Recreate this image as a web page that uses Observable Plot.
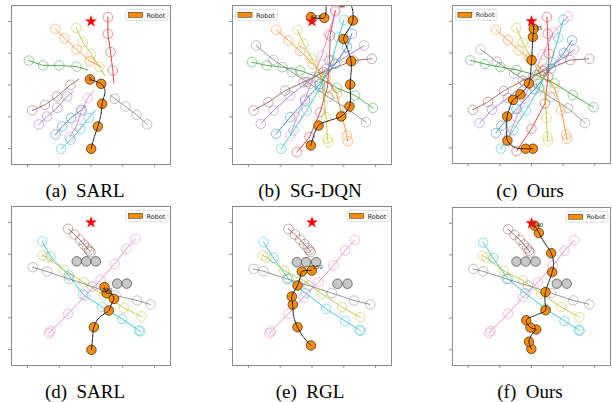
<!DOCTYPE html>
<html>
<head>
<meta charset="utf-8">
<script src="https://cdn.jsdelivr.net/npm/d3@7"></script>
<script src="https://cdn.jsdelivr.net/npm/@observablehq/plot@0.6"></script>
<style>
  html, body { margin: 0; padding: 0; background: #fff; }
  #page { position: relative; width: 612px; height: 402px; overflow: hidden; background: #fff; }
  .panel { position: absolute; }
  .cap { position: absolute; width: 200px; text-align: center; font-family: "Liberation Serif", "Times New Roman", serif; font-size: 19px; line-height: 19px; white-space: pre; color: #000; }
</style>
</head>
<body>
<div id="page"></div>
<script>
// ---------------- data (world coordinates, metres) ----------------
const goal = [0, 4];
const tickValues = [-4, -2, 0, 2, 4];
const captions = ["(a)  SARL", "(b)  SG-DQN", "(c)  Ours", "(d)  SARL", "(e)  RGL", "(f)  Ours"];

// human id -> tab10 colour index: 0 blue,1 orange,2 green,3 red,4 purple,5 brown,6 pink,7 gray,8 olive,9 cyan
const a_humans = [0,1,2,3,4,5,6,7,8,9];
const a_circles = [
  [[-2.23,-3.11],[-1.81,-2.61],[-1.25,-2.07],[-0.60,-1.56]],
  [[-2.23,3.53],[-1.67,2.94],[-0.91,2.23],[-0.07,1.50]],
  [[-3.91,1.54],[-3.01,1.23],[-2.00,1.23],[-0.91,1.16]],
  [[1.06,4.27],[1.06,3.22],[1.23,2.07],[1.37,0.91]],
  [[-3.28,-2.48],[-2.76,-1.98],[-2.13,-1.44],[-1.50,-0.72]],
  [[-3.70,-1.60],[-2.90,-1.25],[-2.13,-0.72],[-1.29,0.01]],
  [[-1.33,-3.28],[-0.91,-2.55],[-0.62,-1.67],[-0.20,-0.83]],
  [[3.53,-2.48],[2.86,-1.88],[2.17,-1.35],[1.50,-0.87]],
  [[-0.93,3.60],[-0.51,2.69],[0.01,1.96],[0.53,1.12]],
  [[-1.88,-4.02],[-1.29,-3.45],[-0.66,-2.76],[-0.14,-2.07]]
];
const a_line_ends = [[-0.30,-1.29],[0.70,1.12],[-0.20,0.95],[1.44,0.12],[-1.12,-0.41],[-0.72,0.39],[0.18,-0.35],[1.23,-0.66],[0.91,0.53],[0.28,-1.60]];
const a_robot = [[0.01,-4.01],[0.43,-2.61],[0.70,-1.18],[0.64,0.07],[-0.07,0.35]];
const a_robot_path = [[0.01,-4.01],[0.20,-3.30],[0.43,-2.61],[0.62,-1.90],[0.70,-1.18],[0.88,-0.30],[0.64,0.07],[-0.07,0.35]];
const a_label = [[-0.07,0.35,"5"]];

const b_humans = [0,1,2,3,4,5,6,7,8,9];
const b_circles = [
  [[-2.25,-3.07],[-1.37,-2.02],[-0.43,-0.98],[0.51,0.07],[1.46,1.33],[2.19,2.38],[2.51,3.22]],
  [[-2.25,3.47],[-1.48,2.80],[-0.74,2.13],[0.05,1.33],[0.89,0.49],[1.56,-0.56],[1.88,-1.92],[2.19,-3.18],[2.25,-3.53]],
  [[-3.78,1.44],[-2.84,1.23],[-1.86,1.12],[-0.74,0.91],[0.41,0.49],[1.56,-0.18],[2.71,-0.66],[3.83,-1.44]],
  [[1.46,4.69],[1.14,3.11],[1.10,1.54],[0.97,-0.14],[0.51,-1.71],[-0.16,-3.28],[-0.95,-4.22]],
  [[-3.22,-2.44],[-2.42,-1.60],[-1.37,-0.66],[-0.28,0.18],[0.93,1.02],[2.09,1.75],[3.28,2.48]],
  [[-3.68,-1.60],[-2.74,-1.08],[-1.69,-0.35],[-0.53,0.18],[0.72,0.81],[2.61,1.54],[3.76,1.65]],
  [[-1.37,-3.18],[-0.95,-2.02],[-0.43,-0.87],[0.09,0.49],[0.62,1.86],[1.04,3.22],[1.46,4.58]],
  [[-3.51,2.48],[-2.42,1.58],[-1.27,0.81],[-0.12,0.07],[1.04,-0.77],[2.23,-1.50],[3.39,-2.34]],
  [[-0.91,3.47],[-0.53,2.59],[-0.01,1.65],[0.51,0.70],[0.72,-0.56],[0.89,-2.02],[0.97,-3.39],[1.02,-3.60]],
  [[-1.94,-4.01],[-1.16,-2.86],[-0.32,-1.60],[0.51,-0.14],[1.25,1.54],[1.67,3.01],[2.02,4.10]]
];
const b_line_ends = [null,null,null,null,null,null,null,null,null,null];
const b_robot = [[-0.07,-3.80],[0.41,-2.55],[1.83,-1.98],[2.36,-1.35],[2.40,0.03],[2.46,1.50],[1.98,2.90],[2.57,4.06],[1.88,5.20],[0.77,4.22],[-0.07,4.27]];
const b_robot_path = [[-0.07,-3.80],[0.41,-2.55],[1.20,-2.20],[1.83,-1.98],[2.36,-1.35],[2.40,0.03],[2.46,1.50],[2.10,2.60],[1.98,2.90],[2.57,4.06],[2.40,5.10],[1.88,5.30],[0.95,5.20],[0.88,4.60],[0.77,4.22],[-0.07,4.27]];
const b_label = [[0.25,4.27,"135"]];

const c_humans = [0,1,2,3,4,5,6,7,8,9];
const c_circles = [
  [[-2.25,-3.07],[-1.90,-2.60],[-0.95,-1.55],[0.20,-0.30],[1.25,1.00],[2.05,2.00],[2.57,2.80]],
  [[-2.25,3.47],[-1.48,2.80],[-0.81,2.16],[-0.13,1.65],[0.72,0.91],[1.46,-0.24],[1.88,-1.60],[2.19,-3.18],[2.25,-3.43]],
  [[-3.87,1.53],[-2.95,1.30],[-1.96,1.10],[-0.95,0.93],[0.30,0.60],[1.46,0.07],[2.61,-0.66],[3.93,-1.44]],
  [[0.98,4.27],[1.02,3.22],[1.10,1.95],[1.05,0.50],[0.85,-1.20],[0.00,-2.80],[-0.95,-4.22]],
  [[-3.28,-2.44],[-2.50,-1.60],[-1.50,-0.85],[-0.40,0.10],[0.85,1.00],[1.90,1.60],[2.70,2.22]],
  [[-3.72,-1.60],[-2.75,-1.10],[-1.75,-0.40],[-0.55,0.25],[0.75,0.85],[2.45,1.55],[3.66,1.63]],
  [[-1.40,-3.20],[-0.95,-2.05],[-0.45,-0.90],[0.10,0.50],[0.70,1.90],[1.40,3.30],[2.30,4.31]],
  [[-3.22,2.23],[-2.20,1.45],[-1.10,0.70],[0.05,-0.05],[1.20,-0.80],[2.30,-1.50],[3.39,-2.44]],
  [[-0.95,3.59],[-0.55,2.65],[-0.05,1.70],[0.55,0.60],[0.85,-0.70],[0.95,-2.10],[1.00,-3.30],[1.05,-3.56]],
  [[-1.94,-4.06],[-1.15,-2.90],[-0.35,-1.65],[0.50,-0.20],[1.25,1.45],[1.70,2.95],[2.02,4.10]]
];
const c_line_ends = [null,null,null,null,null,null,null,null,null,null];
const c_robot = [[0.09,-4.06],[-0.37,-4.06],[-1.52,-3.55],[-1.54,-2.02],[-1.16,-0.97],[-0.70,-0.62],[-0.16,0.07],[0.01,1.54],[0.09,3.01],[0.14,3.53]];
const c_robot_path = [[0.09,-4.06],[-0.37,-4.06],[-1.00,-4.00],[-1.52,-3.55],[-1.56,-2.80],[-1.54,-2.02],[-1.35,-1.40],[-1.16,-0.97],[-0.70,-0.62],[-0.40,-0.30],[-0.16,0.07],[-0.05,0.80],[0.01,1.54],[0.05,2.30],[0.09,3.01],[0.14,3.53],[0.05,3.95]];
const c_label = [[0.36,3.55,"135"]];

const d_humans = [5,9,8,7,6];
const d_circles = [
  [[-1.44,3.60],[-1.04,3.24],[-0.70,2.90],[-0.45,2.61],[-0.24,2.38],[-0.12,2.23],[-0.03,2.13]],
  [[-3.07,2.82],[-2.55,1.86],[-1.39,0.66],[-0.49,-0.54],[0.70,-1.33],[1.96,-2.07],[3.01,-2.80],[3.10,-2.85]],
  [[-3.03,1.92],[-2.75,1.80],[-1.71,1.02],[-0.45,0.24],[0.81,-0.60],[2.06,-1.37],[3.18,-1.92]],
  [[-3.66,1.18],[-2.76,0.91],[-1.39,0.45],[0.07,-0.03],[1.54,-0.60],[2.90,-0.91],[3.74,-1.16]],
  [[-2.65,-2.97],[-2.55,-2.85],[-1.44,-1.75],[-0.35,-0.60],[0.60,0.39],[1.48,1.39],[2.23,2.34],[2.80,2.97]]
];
const d_line_ends = [null,null,null,null,null];
const d_statics = [[-0.90,1.55],[-0.30,1.55],[0.30,1.55],[1.65,0.15],[2.25,0.15]];
const d_robot = [[0.03,-4.01],[0.18,-2.59],[1.12,-1.54],[1.44,-0.81],[0.98,-0.45],[0.85,-0.07]];
const d_robot_path = [[0.03,-4.01],[0.10,-3.30],[0.18,-2.59],[0.50,-2.00],[1.12,-1.54],[1.30,-1.10],[1.44,-0.81],[1.25,-0.45],[0.98,-0.45],[0.85,-0.07]];
const d_label = [[1.00,-0.25,"140"]];

const e_humans = [5,9,8,7,6];
const e_circles = [
  [[-1.48,3.59],[-1.08,3.24],[-0.74,2.92],[-0.49,2.63],[-0.28,2.40],[-0.16,2.24],[-0.08,2.13]],
  [[-3.05,2.76],[-2.42,1.77],[-1.48,0.45],[-0.40,-0.45],[0.89,-1.44],[2.09,-2.21],[2.99,-2.76],[3.05,-2.82]],
  [[-3.09,1.92],[-2.85,1.80],[-1.75,0.97],[-0.53,0.35],[0.62,-0.49],[1.88,-1.33],[3.03,-1.96]],
  [[-3.68,1.08],[-3.05,0.93],[-1.58,0.45],[-0.22,0.03],[1.25,-0.45],[2.65,-0.91],[3.66,-1.16]],
  [[-2.67,-2.97],[-2.58,-2.85],[-1.48,-1.75],[-0.53,-0.70],[0.41,0.24],[1.35,1.29],[2.09,2.23],[2.71,2.90]]
];
const e_line_ends = [null,null,null,null,null];
const e_statics = [[-0.95,1.50],[-0.37,1.50],[0.26,1.50],[1.60,0.14],[2.23,0.14]];
const e_robot = [[-0.07,-3.74],[-0.91,-2.59],[-1.21,-1.17],[-1.27,-0.66],[-0.91,0.03],[-0.64,0.91],[-0.01,0.97]];
const e_robot_path = [[-0.07,-3.74],[-0.55,-3.20],[-0.91,-2.59],[-1.15,-1.90],[-1.21,-1.17],[-1.27,-0.66],[-0.91,0.03],[-0.75,0.50],[-0.64,0.91],[-0.01,0.97]];
const e_label = [[0.35,1.15,"150"]];

const f_humans = [5,9,8,7,6];
const f_circles = [
  [[-1.48,3.62],[-1.08,3.27],[-0.74,2.95],[-0.49,2.66],[-0.28,2.43],[-0.16,2.27],[-0.08,2.15]],
  [[-3.05,2.78],[-2.42,1.80],[-1.48,0.48],[-0.40,-0.42],[0.89,-1.41],[2.09,-2.18],[2.99,-2.74],[3.05,-2.80]],
  [[-3.09,1.95],[-2.85,1.83],[-1.75,1.00],[-0.53,0.38],[0.62,-0.46],[1.88,-1.30],[3.03,-1.93]],
  [[-3.68,1.11],[-3.05,0.96],[-1.58,0.48],[-0.22,0.06],[1.25,-0.42],[2.65,-0.88],[3.66,-1.13]],
  [[-2.67,-2.94],[-2.58,-2.82],[-1.48,-1.72],[-0.53,-0.67],[0.41,0.27],[1.35,1.32],[2.09,2.26],[2.71,2.93]]
];
const f_line_ends = [null,null,null,null,null];
const f_statics = [[-0.95,1.58],[-0.37,1.58],[0.26,1.58],[1.60,0.18],[2.23,0.18]];
const f_robot = [[-0.01,-3.95],[-0.16,-3.49],[0.30,-2.72],[-0.07,-2.59],[-0.33,-2.13],[0.89,-1.50],[0.89,-0.35],[1.31,0.91],[1.25,2.11],[0.47,3.39],[0.20,3.85]];
const f_robot_path = [[-0.01,-3.95],[-0.16,-3.49],[0.05,-3.00],[0.30,-2.72],[-0.07,-2.59],[-0.33,-2.13],[0.30,-1.80],[0.89,-1.50],[0.85,-0.90],[0.89,-0.35],[1.31,0.91],[1.40,1.40],[1.25,2.11],[0.80,2.80],[0.47,3.39],[0.20,3.85],[0.05,4.00]];
const f_label = [[0.42,3.85,"140"]];

// ---------------- layout ----------------
const SIDE = 159;           // frame size in px
const ML = 12, MR = 2, MT = 2, MB = 6;
const panels = [
  {humans:a_humans, circles:a_circles, ends:a_line_ends, robot:a_robot, path:a_robot_path, label:a_label, statics:[], left:11,  top:5,   legendLeft:false},
  {humans:b_humans, circles:b_circles, ends:b_line_ends, robot:b_robot, path:b_robot_path, label:b_label, statics:[], left:232, top:5,   legendLeft:true},
  {humans:c_humans, circles:c_circles, ends:c_line_ends, robot:c_robot, path:c_robot_path, label:c_label, statics:[], left:452, top:5,   legendLeft:true},
  {humans:d_humans, circles:d_circles, ends:d_line_ends, robot:d_robot, path:d_robot_path, label:d_label, statics:d_statics, left:11,  top:206, legendLeft:false},
  {humans:e_humans, circles:e_circles, ends:e_line_ends, robot:e_robot, path:e_robot_path, label:e_label, statics:e_statics, left:232, top:206, legendLeft:false},
  {humans:f_humans, circles:f_circles, ends:f_line_ends, robot:f_robot, path:f_robot_path, label:f_label, statics:f_statics, left:452, top:207, legendLeft:false}
];
const capPos = [[85,181],[310,181],[530,181],[85,382],[310,382],[530,382]];

const page = document.getElementById("page");
const R = 0.3 * SIDE / 10;   // 0.3 m body radius in px
const ROBOT = "#ff8c00";

panels.forEach((p, k) => {
  const circleRows = [];
  const lineRows = [];
  p.humans.forEach((h, i) => {
    p.circles[i].forEach(([x, y]) => { circleRows.push({x, y, h}); lineRows.push({x, y, h}); });
    if (p.ends[i]) lineRows.push({x: p.ends[i][0], y: p.ends[i][1], h});
  });
  const svg = Plot.plot({
    width: ML + SIDE + MR, height: MT + SIDE + MB,
    marginLeft: ML, marginRight: MR, marginTop: MT, marginBottom: MB,
    x: {domain: [-5, 5], axis: null},
    y: {domain: [-5, 5], axis: null},
    color: {type: "ordinal", domain: d3.range(10), range: d3.schemeCategory10},
    style: {background: "transparent", overflow: "visible"},
    marks: [
      Plot.line(lineRows, {x: "x", y: "y", z: "h", stroke: "h", strokeWidth: 0.9, strokeDasharray: "1.6,0.9", clip: true}),
      Plot.dot(circleRows, {x: "x", y: "y", stroke: "h", r: R, strokeWidth: 0.9, strokeOpacity: 0.55, fill: "none", clip: true}),
      Plot.dot(p.statics, {x: d => d[0], y: d => d[1], r: R, fill: "#c8c8c8", stroke: "#444", strokeWidth: 0.7}),
      Plot.dot(p.robot, {x: d => d[0], y: d => d[1], r: R, fill: ROBOT, stroke: "#222", strokeWidth: 0.7, clip: true}),
      Plot.line(p.path, {x: d => d[0], y: d => d[1], stroke: "#111", strokeWidth: 1, strokeDasharray: "1.6,1", curve: "catmull-rom", clip: true}),
      Plot.dot([goal], {x: d => d[0], y: d => d[1], symbol: "star", fill: "red", r: 3.8}),
      Plot.text(p.label, {x: d => d[0], y: d => d[1], text: d => d[2], fontSize: 5.5, fill: "#222", fontFamily: "DejaVu Sans"}),
      Plot.frame({stroke: "#8a8a8a", strokeWidth: 1}),
      Plot.axisX({ticks: tickValues, tickFormat: () => "", tickSize: 3, stroke: "#8a8a8a", label: null}),
      Plot.axisY({ticks: tickValues, tickFormat: () => "", tickSize: 3, stroke: "#8a8a8a", label: null})
    ]
  });
  // legend (matplotlib style)
  const g = d3.select(svg).append("g").attr("font-family", "DejaVu Sans, sans-serif").attr("text-anchor", "start");
  const bx = ML + (p.legendLeft ? 3.5 : 115), by = MT + 4.3;
  g.append("rect").attr("x", bx).attr("y", by).attr("width", 42).attr("height", 11)
    .attr("rx", 1.5).attr("fill", "white").attr("fill-opacity", 0.85).attr("stroke", "#d0d0d0").attr("stroke-width", 0.7);
  g.append("rect").attr("x", bx + 2.5).attr("y", by + 3).attr("width", 14).attr("height", 5)
    .attr("fill", ROBOT).attr("stroke", "#222").attr("stroke-width", 0.5);
  g.append("text").attr("x", bx + 20.5).attr("y", by + 8.2).attr("font-size", 6.5)
    .attr("text-anchor", "start").attr("fill", "#222").text("Robot");

  const div = document.createElement("div");
  div.className = "panel";
  div.style.left = (p.left - ML) + "px";
  div.style.top = (p.top - MT) + "px";
  div.appendChild(svg);
  page.appendChild(div);

  const cap = document.createElement("div");
  cap.className = "cap";
  cap.style.left = (capPos[k][0] - 100) + "px";
  cap.style.top = capPos[k][1] + "px";
  cap.textContent = captions[k];
  page.appendChild(cap);
});
</script>
</body>
</html>
